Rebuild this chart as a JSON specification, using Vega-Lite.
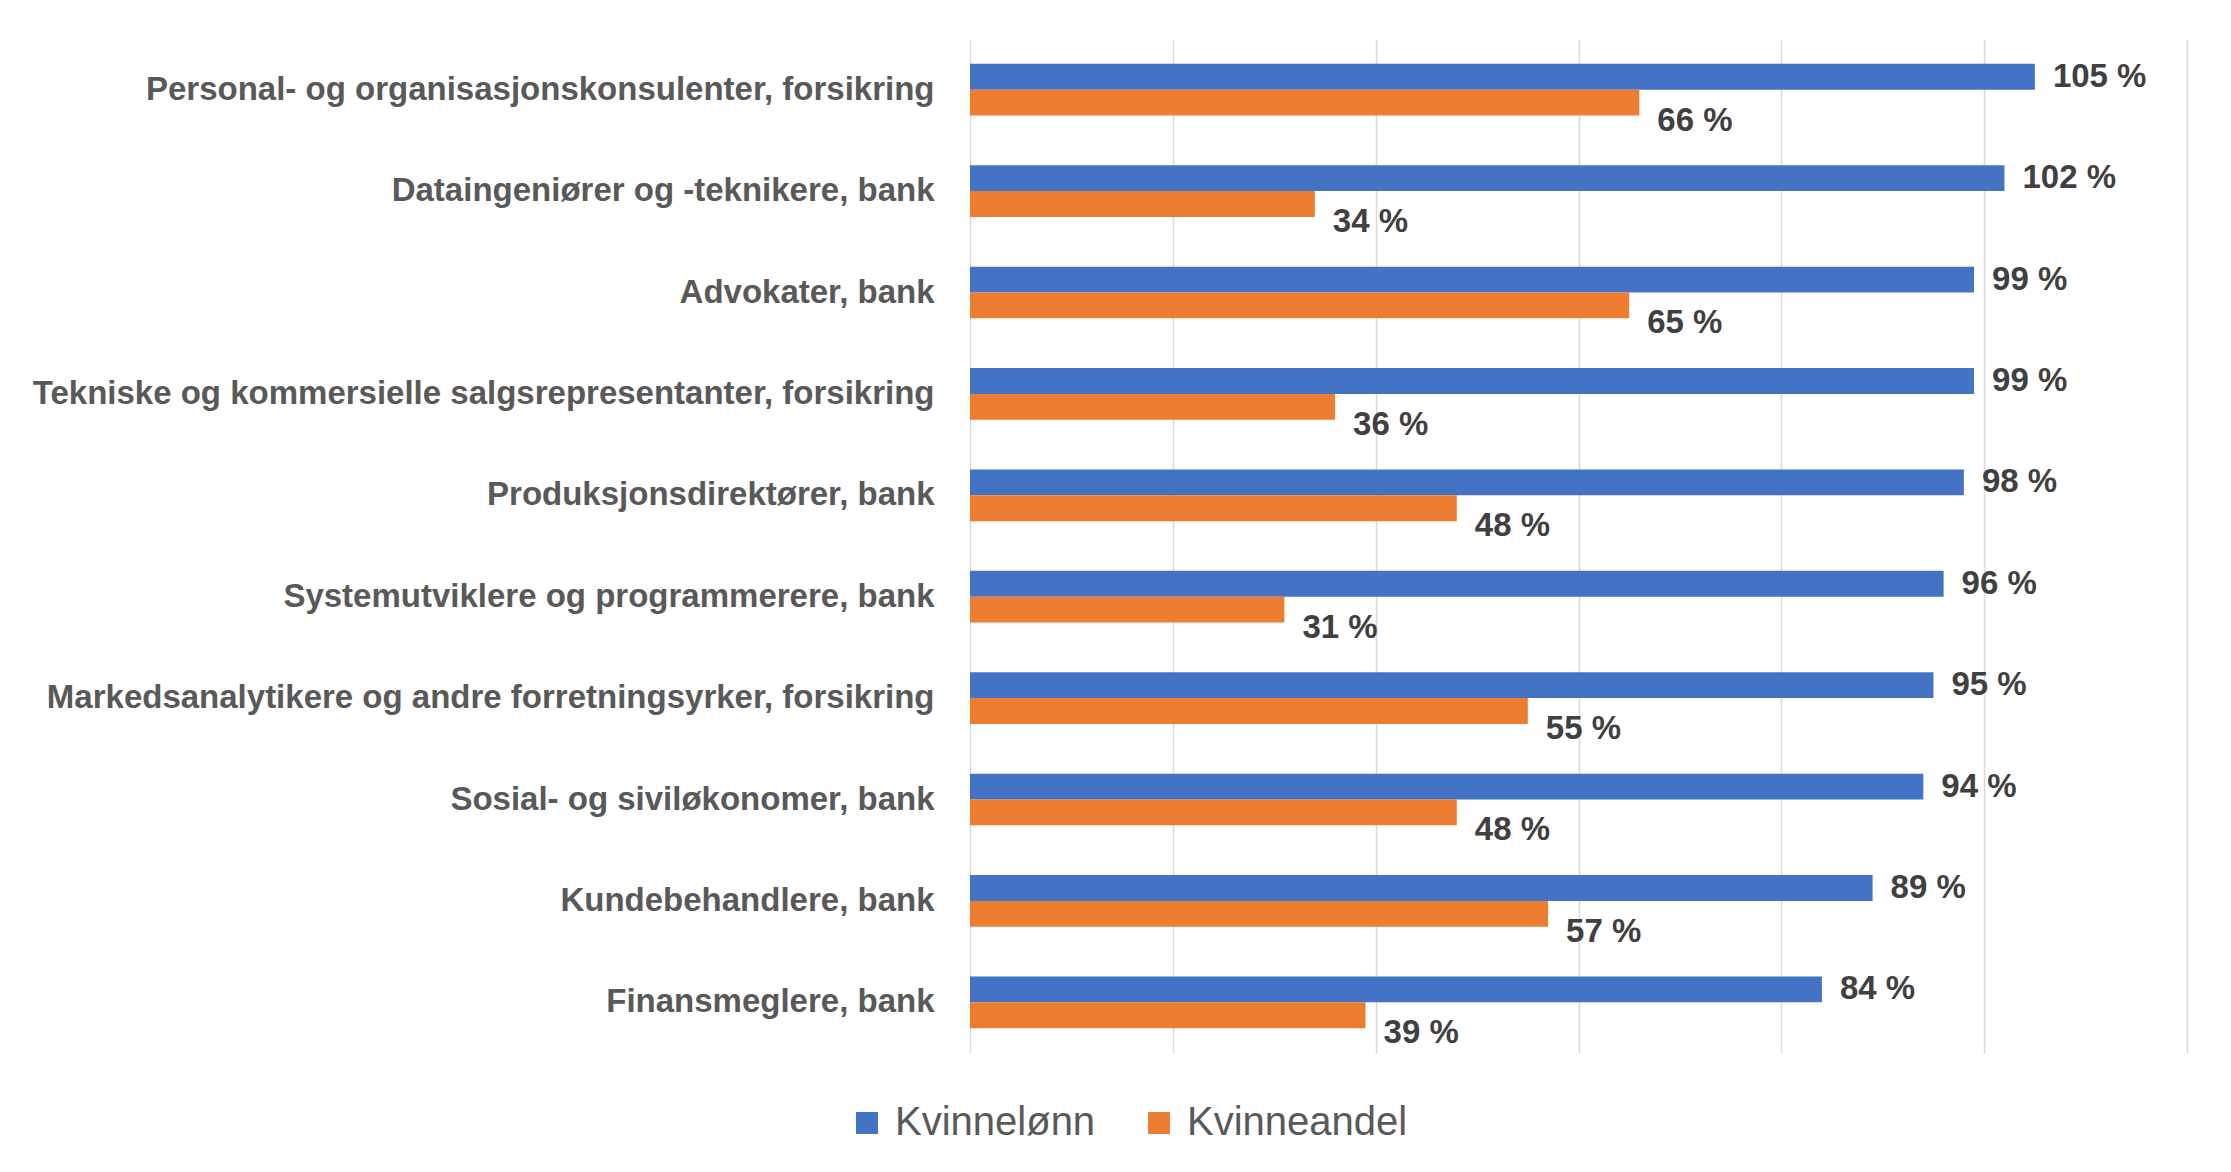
{
  "$schema": "https://vega.github.io/schema/vega-lite/v6.json",
  "width": 1217,
  "height": 1014,
  "autosize": {"type": "none"},
  "padding": {"left": 970, "top": 39, "right": 44, "bottom": 119},
  "background": "white",
  "config": {"view": {"stroke": null}},
  "data": {
    "values": [
      {"yrke": "Personal- og organisasjonskonsulenter, forsikring", "serie": "Kvinnelønn", "verdi": 105},
      {"yrke": "Personal- og organisasjonskonsulenter, forsikring", "serie": "Kvinneandel", "verdi": 66},
      {"yrke": "Dataingeniører og -teknikere, bank", "serie": "Kvinnelønn", "verdi": 102},
      {"yrke": "Dataingeniører og -teknikere, bank", "serie": "Kvinneandel", "verdi": 34},
      {"yrke": "Advokater, bank", "serie": "Kvinnelønn", "verdi": 99},
      {"yrke": "Advokater, bank", "serie": "Kvinneandel", "verdi": 65},
      {"yrke": "Tekniske og kommersielle salgsrepresentanter, forsikring", "serie": "Kvinnelønn", "verdi": 99},
      {"yrke": "Tekniske og kommersielle salgsrepresentanter, forsikring", "serie": "Kvinneandel", "verdi": 36},
      {"yrke": "Produksjonsdirektører, bank", "serie": "Kvinnelønn", "verdi": 98},
      {"yrke": "Produksjonsdirektører, bank", "serie": "Kvinneandel", "verdi": 48},
      {"yrke": "Systemutviklere og programmerere, bank", "serie": "Kvinnelønn", "verdi": 96},
      {"yrke": "Systemutviklere og programmerere, bank", "serie": "Kvinneandel", "verdi": 31},
      {"yrke": "Markedsanalytikere og andre forretningsyrker, forsikring", "serie": "Kvinnelønn", "verdi": 95},
      {"yrke": "Markedsanalytikere og andre forretningsyrker, forsikring", "serie": "Kvinneandel", "verdi": 55},
      {"yrke": "Sosial- og siviløkonomer, bank", "serie": "Kvinnelønn", "verdi": 94},
      {"yrke": "Sosial- og siviløkonomer, bank", "serie": "Kvinneandel", "verdi": 48},
      {"yrke": "Kundebehandlere, bank", "serie": "Kvinnelønn", "verdi": 89},
      {"yrke": "Kundebehandlere, bank", "serie": "Kvinneandel", "verdi": 57},
      {"yrke": "Finansmeglere, bank", "serie": "Kvinnelønn", "verdi": 84},
      {"yrke": "Finansmeglere, bank", "serie": "Kvinneandel", "verdi": 39}
    ]
  },
  "transform": [{"calculate": "datum.verdi + ' %'", "as": "etikett"}],
  "encoding": {
    "y": {
      "field": "yrke", "type": "nominal", "sort": null,
      "scale": {"paddingInner": 0.49, "paddingOuter": 0.245},
      "axis": {
        "title": null, "ticks": false, "domain": false,
        "labelFont": "Liberation Sans", "labelFontSize": 33, "labelFontWeight": "bold",
        "labelColor": "#595959", "labelPadding": 36, "labelLimit": 1000
      }
    },
    "yOffset": {"field": "serie", "type": "nominal", "sort": ["Kvinnelønn", "Kvinneandel"]},
    "x": {
      "field": "verdi", "type": "quantitative",
      "scale": {"domain": [0, 120], "nice": false},
      "axis": {
        "title": null, "labels": false, "ticks": false, "domain": false,
        "grid": true, "gridColor": "#d9d9d9", "gridWidth": 1.5,
        "values": [0, 20, 40, 60, 80, 100, 120]
      }
    }
  },
  "layer": [
    {
      "mark": {"type": "bar"},
      "encoding": {
        "color": {
          "field": "serie", "type": "nominal",
          "scale": {"domain": ["Kvinnelønn", "Kvinneandel"], "range": ["#4472C4", "#ED7D31"]},
          "legend": {
            "title": null, "orient": "none", "direction": "horizontal",
            "legendX": -123, "legendY": 1064, "padding": 0,
            "symbolType": "square", "symbolSize": 484, "symbolStrokeWidth": 0,
            "labelFont": "Liberation Sans", "labelFontSize": 40, "labelColor": "#595959",
            "labelOffset": 8, "labelLimit": 500, "columnPadding": 43
          }
        }
      }
    },
    {
      "transform": [{"filter": "datum.serie === 'Kvinnelønn'"}],
      "mark": {"type": "text", "align": "left", "baseline": "middle", "dx": 18,
               "font": "Liberation Sans", "fontSize": 33, "fontWeight": "bold", "color": "#404040"},
      "encoding": {"text": {"field": "etikett"}}
    },
    {
      "transform": [{"filter": "datum.serie === 'Kvinneandel'"}],
      "mark": {"type": "text", "align": "left", "baseline": "middle", "dx": 18, "dy": 18,
               "font": "Liberation Sans", "fontSize": 33, "fontWeight": "bold", "color": "#404040"},
      "encoding": {"text": {"field": "etikett"}}
    }
  ]
}
